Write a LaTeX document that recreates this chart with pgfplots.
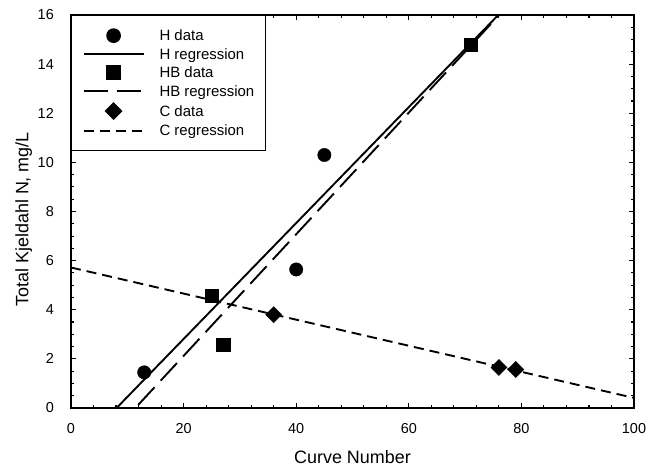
\documentclass[border=0pt]{standalone}
\usepackage{pgfplots}
\pgfplotsset{compat=1.18}
\usepackage{fontspec}
\setmainfont{Liberation Sans}
\begin{document}
\begin{tikzpicture}
\begin{axis}[
  at={(71bp,60bp)}, anchor=south west,
  scale only axis, width=563bp, height=393bp,
  xmin=0, xmax=100, ymin=0, ymax=16,
  xtick={0,20,...,100}, ytick={0,2,...,16},
  minor x tick num=4, minor y tick num=3,
  tick align=inside,
  major tick length=5bp, minor tick length=3bp,
  axis line style={line width=1.3bp},
  every tick/.style={black, line width=1.1bp},
  /pgf/number format/assume math mode=true,
  tick label style={font=\fontsize{14.5}{16}\selectfont, inner sep=0pt},
  xticklabel style={anchor=base, yshift=-25bp},
  yticklabel style={anchor=east, xshift=-17bp},
  xlabel={Curve Number},
  ylabel={Total Kjeldahl N, mg/L},
  label style={font=\fontsize{18}{20}\selectfont},
  xlabel style={at={(axis description cs:0.5,-0.14)}, anchor=base, inner sep=0pt},
  ylabel style={at={(axis description cs:-0.0755,0.48)}, anchor=base, inner sep=0pt},
  legend cell align=left,
  legend image code/.code={\draw[mark repeat=2,mark phase=2,#1] plot coordinates {(0bp,0bp) (30bp,0bp) (60bp,0bp)};},
  legend style={at={(0,1)}, anchor=north west, draw=black, line width=1.3bp, fill=white,
    font=\fontsize{15}{17}\selectfont, inner xsep=11bp, inner ysep=13bp,
    row sep=4.6bp, column sep=15bp,
    nodes={inner sep=0pt, text height=12bp, text depth=2bp}},
]
\addplot[only marks, mark=*, mark size=6.7bp, black] coordinates {(13,1.45) (40,5.64) (45,10.3)};
\addlegendentry{H data}
\addplot[black, line width=1.9bp] coordinates {(0,-1.91) (100,21.69)};
\addlegendentry{H regression}
\addplot[only marks, mark=square*, mark size=6.7bp, black] coordinates {(25,4.56) (27,2.58) (71,14.8)};
\addlegendentry{HB data}
\addplot[black, line width=1.9bp, dash pattern=on 24bp off 9bp] coordinates {(0,-2.83) (100,21.93)};
\addlegendentry{HB regression}
\addplot[only marks, mark=square*, mark size=5.7bp, mark options={rotate=45}, black] coordinates {(36,3.8) (76,1.65) (79,1.57)};
\addlegendentry{C data}
\addplot[black, line width=1.9bp, dash pattern=on 10bp off 6bp] coordinates {(0,5.72) (100,0.41)};
\addlegendentry{C regression}
\end{axis}
\pgfresetboundingbox
\path[use as bounding box] (0,0) rectangle (655bp,468bp);
\end{tikzpicture}
\end{document}
